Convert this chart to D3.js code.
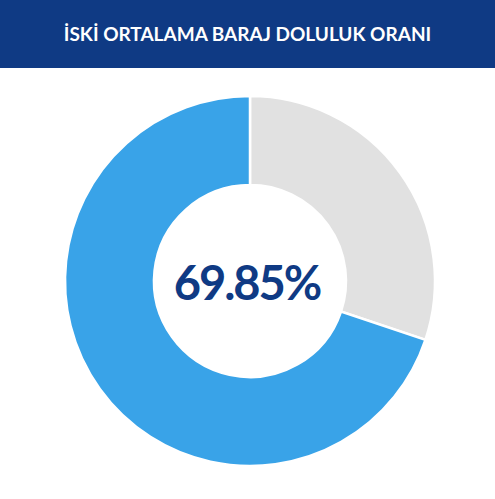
<!DOCTYPE html>
<html>
<head>
<meta charset="utf-8">
<script src="https://cdn.jsdelivr.net/npm/d3@7"></script>
<style>
  html, body { margin: 0; padding: 0; background: #fff; }
</style>
</head>
<body>
<div id="chart"></div>
<script>
const width = 495;
const height = 499;

// data
const titleText = "İSKİ ORTALAMA BARAJ DOLULUK ORANI";
const categories = ["Boş", "Dolu"];
const values = [30.15, 69.85];
const colors = ["#e1e1e1", "#39a3e8"];
const centerLabel = "69.85%";

const svg = d3.select("#chart")
    .append("svg")
    .attr("width", width)
    .attr("height", height);

// header band
svg.append("rect")
    .attr("x", 0)
    .attr("y", 0)
    .attr("width", width)
    .attr("height", 68)
    .attr("fill", "#0f3a84");

svg.append("text")
    .attr("x", width / 2)
    .attr("y", 33)
    .attr("text-anchor", "middle")
    .attr("dominant-baseline", "central")
    .style("font-family", "Lato, 'Open Sans', sans-serif")
    .style("font-weight", "bold")
    .style("font-size", "19px")
    .attr("fill", "#fff")
    .text(titleText);

// donut
const g = svg.append("g")
    .attr("transform", "translate(250,281)");

const pie = d3.pie()
    .sort(null)
    .value(d => d);

const arc = d3.arc()
    .innerRadius(96)
    .outerRadius(185);

g.selectAll("path")
    .data(pie(values))
    .enter().append("path")
    .attr("d", arc)
    .attr("fill", (d, i) => colors[i])
    .attr("stroke", "#fff")
    .attr("stroke-width", 2.5);

g.append("text")
    .attr("x", -3)
    .attr("y", 1)
    .attr("text-anchor", "middle")
    .attr("dominant-baseline", "central")
    .style("font-family", "Lato, 'Open Sans', sans-serif")
    .style("font-weight", "bold")
    .style("font-size", "47px")
    .style("letter-spacing", "-2px")
    .attr("fill", "#0f3a84")
    .text(centerLabel);
</script>
</body>
</html>
